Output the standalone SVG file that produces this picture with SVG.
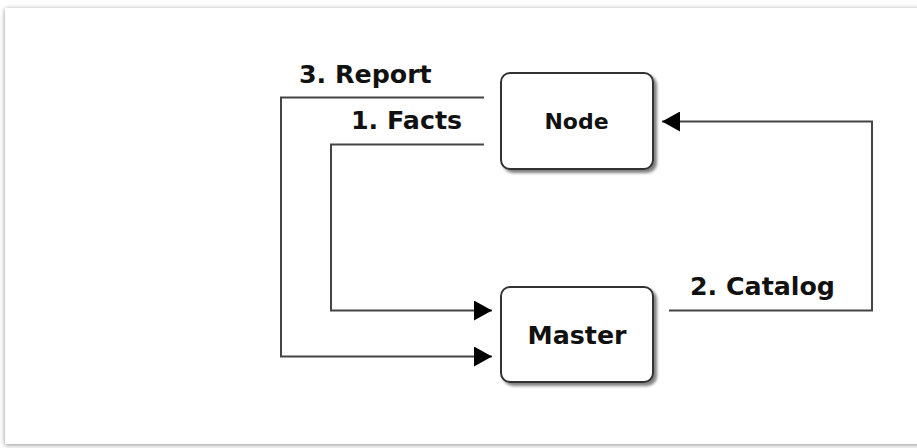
<svg xmlns="http://www.w3.org/2000/svg" width="917" height="448" viewBox="0 0 917 448">
  <defs>
    <style>
      .frame { fill: #ffffff; }
      .box { fill: #ffffff; stroke: #333333; stroke-width: 2; }
      .wire { fill: none; stroke: #444444; stroke-width: 2; }
      .label { font-family: "DejaVu Sans", Verdana, sans-serif; font-weight: bold; fill: #111111; }
    </style>
    <filter id="pageShadow" x="-5%" y="-5%" width="110%" height="110%">
      <feGaussianBlur in="SourceAlpha" stdDeviation="2.5"/>
      <feOffset dx="0" dy="1" result="blur"/>
      <feComponentTransfer><feFuncA type="linear" slope="0.45"/></feComponentTransfer>
      <feMerge><feMergeNode/><feMergeNode in="SourceGraphic"/></feMerge>
    </filter>
    <filter id="boxShadow" x="-10%" y="-10%" width="125%" height="130%">
      <feGaussianBlur in="SourceAlpha" stdDeviation="1.5"/>
      <feOffset dx="3" dy="3"/>
      <feComponentTransfer><feFuncA type="linear" slope="0.5"/></feComponentTransfer>
      <feMerge><feMergeNode/><feMergeNode in="SourceGraphic"/></feMerge>
    </filter>
    <marker id="arrow" viewBox="0 0 18 20" refX="18" refY="10" markerWidth="18" markerHeight="20" markerUnits="userSpaceOnUse" orient="auto">
      <path d="M0,0 L18,10 L0,20 Z" fill="#000000"/>
    </marker>
  </defs>

  <!-- page background -->
  <rect x="0" y="0" width="917" height="448" fill="#ffffff"/>
  <rect class="frame" x="5" y="8" width="940" height="436" filter="url(#pageShadow)"/>

  <!-- connectors -->
  <g id="connectors">
    <!-- 3. Report : Node -> Master -->
    <polyline class="wire" points="484,97.5 281,97.5 281,356.5 492,356.5" marker-end="url(#arrow)"/>
    <!-- 1. Facts : Node -> Master -->
    <polyline class="wire" points="484,144.5 331,144.5 331,310.5 492,310.5" marker-end="url(#arrow)"/>
    <!-- 2. Catalog : Master -> Node -->
    <polyline class="wire" points="669,310.5 872,310.5 872,121.5 662,121.5" marker-end="url(#arrow)"/>
    <text class="label" x="299" y="83" font-size="25.3">3. Report</text>
    <text class="label" x="351" y="129" font-size="25.3">1. Facts</text>
    <text class="label" x="690" y="295" font-size="25.3">2. Catalog</text>
  </g>

  <!-- Node -->
  <g id="node">
    <rect class="box" x="501" y="73" width="152" height="96" rx="9" filter="url(#boxShadow)"/>
    <text class="label" x="576.5" y="128.5" font-size="22" text-anchor="middle">Node</text>
  </g>

  <!-- Master -->
  <g id="master">
    <rect class="box" x="501" y="287" width="152" height="95" rx="9" filter="url(#boxShadow)"/>
    <text class="label" x="577" y="343.5" font-size="25.3" text-anchor="middle">Master</text>
  </g>
</svg>
